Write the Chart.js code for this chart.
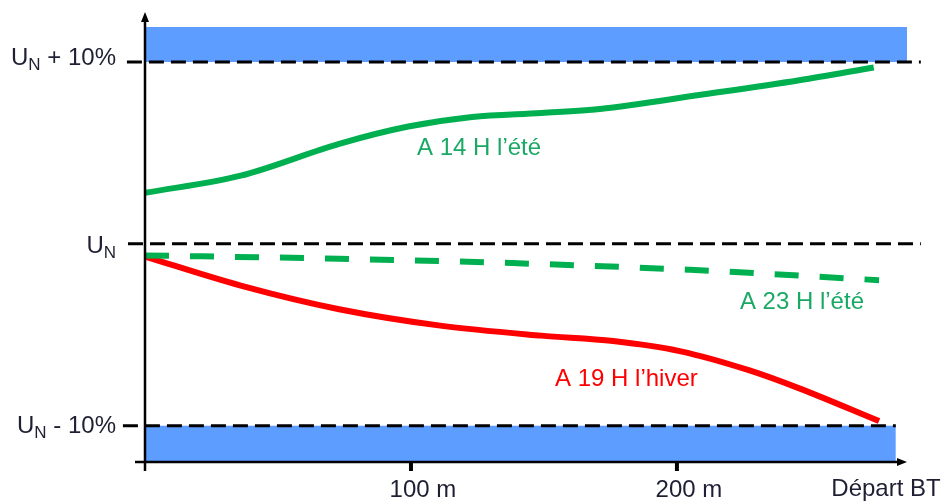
<!DOCTYPE html>
<html>
<head>
<meta charset="utf-8">
<script src="https://cdn.jsdelivr.net/npm/chart.js@4.4.0/dist/chart.umd.min.js"></script>
<style>
    html, body { margin: 0; padding: 0; background: #fff; }
    canvas { display: block; }
</style>
</head>
<body>
<canvas id="tensionChart" width="944" height="502"></canvas>
<script>
// distance from the far end (m) and deviation from U_N (%)
const summerNoonX = [0, 36, 73, 99, 123, 149, 171, 209, 246, 274];
const summerNoonY = [2.8, 3.75, 5.5, 6.45, 6.98, 7.2, 7.42, 8.2, 9.0, 9.7];

const summerNightX = [0, 73, 138, 205, 276];
const summerNightY = [-0.64, -0.82, -1.06, -1.43, -2.0];

const winterEveningX = [0, 36, 73, 111, 149, 176, 201, 227, 246, 276];
const winterEveningY = [-0.7, -2.3, -3.6, -4.5, -5.05, -5.35, -5.9, -6.95, -7.95, -9.75];

const limitValues = [10, 0, -10];
const limitLabels = [["U", "N", " + 10%"], ["U", "N", ""], ["U", "N", " - 10%"]];
const limitStartX = [-6.8, -6.4, -8.3];
const limitEndX = [291.7, 291.7, 282.3];

const bandTop = [10, 11.92];
const bandBottom = [-12, -10];
const bandTopEndX = 288.3;
const bandBottomEndX = 282.3;

const xTickValues = [100, 200];
const xTickLabels = ["100 m", "200 m"];
const endLabel = "Départ BT";

const curveLabels = ["A 14 H l’été", "A 23 H l’été", "A 19 H l’hiver"];
const curveLabelAt = [[125.6, 4.9], [247, -3.6], [181, -7.8]];

const GREEN = "#00b050";
const GREEN_TEXT = "#1aa865";
const RED = "#ff0000";
const BLUE = "#5c9dff";
const FONT = '"Liberation Sans", Arial, sans-serif';

function pts(xs, ys) {
    return xs.map((x, i) => ({ x: x, y: ys[i] }));
}

const decorations = {
    id: "decorations",
    afterDatasetsDraw(chart) {
        const { ctx, scales: { x, y } } = chart;
        const x0 = x.getPixelForValue(0);
        const yTop = y.getPixelForValue(y.max);
        const yBase = y.getPixelForValue(y.min);
        const xEnd = x.getPixelForValue(x.max);

        ctx.save();
        ctx.strokeStyle = "#000";
        ctx.fillStyle = "#000";
        ctx.lineWidth = 2.5;

        // axes with arrows
        ctx.beginPath();
        ctx.moveTo(x0, yBase + 9);
        ctx.lineTo(x0, yTop + 6);
        ctx.moveTo(x0 - 10, yBase);
        ctx.lineTo(xEnd - 6, yBase);
        ctx.stroke();

        ctx.beginPath();
        ctx.moveTo(x0, yTop);
        ctx.lineTo(x0 - 4, yTop + 10);
        ctx.lineTo(x0 + 4, yTop + 10);
        ctx.closePath();
        ctx.fill();

        ctx.beginPath();
        ctx.moveTo(xEnd, yBase);
        ctx.lineTo(xEnd - 10, yBase - 4);
        ctx.lineTo(xEnd - 10, yBase + 4);
        ctx.closePath();
        ctx.fill();

        // x ticks
        ctx.lineWidth = 4;
        ctx.font = "24px " + FONT;
        ctx.textAlign = "center";
        ctx.textBaseline = "alphabetic";
        ctx.fillStyle = "#1f1f33";
        xTickValues.forEach((v, i) => {
            const px = x.getPixelForValue(v);
            ctx.beginPath();
            ctx.moveTo(px, yBase);
            ctx.lineTo(px, yBase + 9);
            ctx.stroke();
            ctx.fillText(xTickLabels[i], px + 12, yBase + 35);
        });
        ctx.fillText(endLabel, xEnd - 21, yBase + 34);

        // limit labels U_N
        const baseOffsets = [3, 9, 7];
        limitValues.forEach((v, i) => {
            const [main, sub, rest] = limitLabels[i];
            const py = y.getPixelForValue(v) + baseOffsets[i];
            ctx.font = "24px " + FONT;
            const w1 = ctx.measureText(main).width;
            const w3 = ctx.measureText(rest).width;
            ctx.font = "17px " + FONT;
            const w2 = ctx.measureText(sub).width;
            const right = x0 - 29;
            let sx = right - (w1 + w2 + w3);
            ctx.textAlign = "left";
            ctx.font = "24px " + FONT;
            ctx.fillText(main, sx, py);
            ctx.font = "17px " + FONT;
            ctx.fillText(sub, sx + w1, py + 5);
            ctx.font = "24px " + FONT;
            ctx.fillText(rest, sx + w1 + w2, py);
        });

        // curve labels
        const labelColors = [GREEN_TEXT, GREEN_TEXT, RED];
        ctx.textAlign = "center";
        ctx.font = "24px " + FONT;
        curveLabels.forEach((t, i) => {
            ctx.fillStyle = labelColors[i];
            ctx.fillText(t, x.getPixelForValue(curveLabelAt[i][0]), y.getPixelForValue(curveLabelAt[i][1]));
        });
        ctx.restore();
    }
};

const limitSets = limitValues.map((v, i) => ({
    data: [{ x: limitStartX[i], y: v }, { x: limitEndX[i], y: v }],
    borderColor: "#000",
    borderWidth: 3,
    borderDash: [15, 7],
    pointRadius: 0,
    clip: false,
    order: 2
}));

new Chart(document.getElementById("tensionChart"), {
    type: "line",
    data: {
        datasets: [
            {
                data: pts(summerNoonX, summerNoonY),
                borderColor: GREEN,
                borderWidth: 6,
                pointRadius: 0,
                cubicInterpolationMode: "monotone",
                order: 0
            },
            {
                data: pts(summerNightX, summerNightY),
                borderColor: GREEN,
                borderWidth: 6,
                borderDash: [24, 21],
                pointRadius: 0,
                cubicInterpolationMode: "monotone",
                order: 0
            },
            {
                data: pts(winterEveningX, winterEveningY),
                borderColor: RED,
                borderWidth: 6,
                pointRadius: 0,
                cubicInterpolationMode: "monotone",
                order: 0
            },
            ...limitSets,
            {
                data: [{ x: 0, y: bandTop[1] }, { x: bandTopEndX, y: bandTop[1] }],
                borderWidth: 0,
                pointRadius: 0,
                backgroundColor: BLUE,
                fill: { value: bandTop[0] },
                clip: false,
                order: 3
            },
            {
                data: [{ x: 0, y: bandBottom[1] }, { x: bandBottomEndX, y: bandBottom[1] }],
                borderWidth: 0,
                pointRadius: 0,
                backgroundColor: BLUE,
                fill: { value: bandBottom[0] },
                clip: false,
                order: 3
            }
        ]
    },
    options: {
        responsive: false,
        animation: false,
        layout: { padding: { left: 145, right: 37, top: 12, bottom: 40 } },
        plugins: {
            legend: { display: false },
            tooltip: { enabled: false }
        },
        scales: {
            x: { type: "linear", min: 0, max: 286.5, display: false },
            y: { min: -12, max: 12.75, display: false }
        }
    },
    plugins: [decorations]
});
</script>
</body>
</html>
